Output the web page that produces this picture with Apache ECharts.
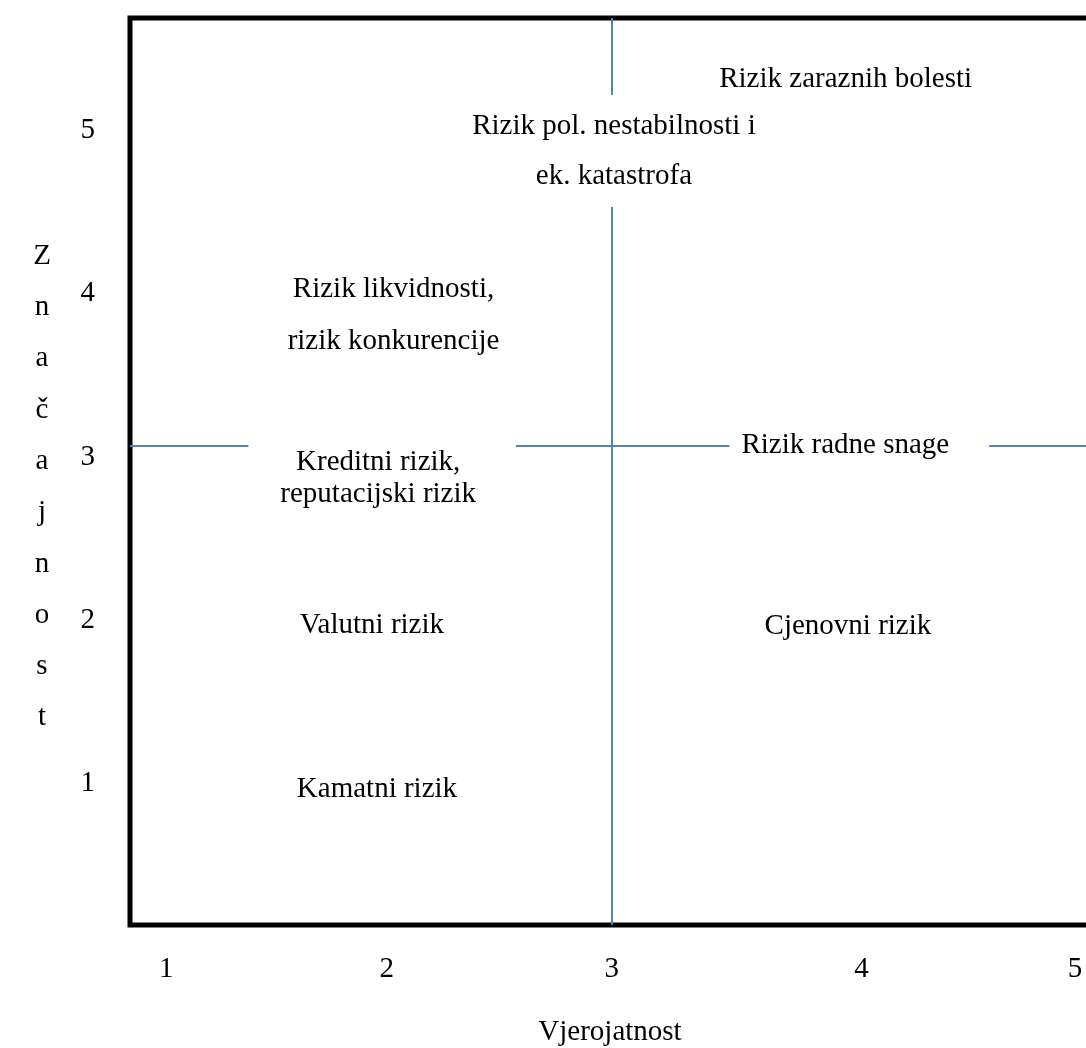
<!DOCTYPE html>
<html>
<head>
	<meta charset="utf-8">
	<title>matrica rizika</title>
	<script src="https://cdn.jsdelivr.net/npm/echarts@6/dist/echarts.min.js"></script>
	<style>
		html, body { margin: 0; padding: 0; background: #fff; }
		#DIV1 { width: 1086px; height: 1048px; }
	</style>
</head>
<body>
	<div id="DIV1"></div>
	<script type="text/javascript">
		// tick labels and where they sit on the axes
		const xTickLabels = ["1", "2", "3", "4", "5"];
		const xTickPos = [1.04, 2.01, 3.0, 4.10, 5.04];
		const yTickLabels = ["1", "2", "3", "4", "5"];
		const yTickPos = [1, 2, 3, 4, 5];

		// risks placed in the matrix (vjerojatnost, značajnost)
		const risks = [
			"Rizik zaraznih bolesti",
			"Rizik pol. nestabilnosti i\nek. katastrofa",
			"Rizik likvidnosti,\nrizik konkurencije",
			"Kreditni rizik,\nreputacijski rizik",
			"Rizik radne snage",
			"Valutni rizik",
			"Cjenovni rizik",
			"Kamatni rizik"
		];
		const riskX = [4.03, 3.01, 2.04, 1.99, 4.09, 1.945, 4.04, 1.967];
		const riskY = [5.282, 4.845, 3.834, 2.84, 3.04, 1.938, 1.933, 0.934];

		// quadrant dividers
		const splitX = 3;
		const splitY = 3.04;

		const FONT = "'Liberation Serif', 'DejaVu Serif', serif";

		const chart = echarts.init(document.getElementById("DIV1"));

		// label box looks (white boxes hide the divider lines behind text)
		const boxStyle = {
			1: { lineHeight: 50, padding: [12, 10, 0, 10], backgroundColor: "#fff" },
			2: { lineHeight: 52 },
			3: { lineHeight: 32, padding: [8, 40, 4, 32], backgroundColor: "#fff" },
			4: { padding: [11, 40, 5, 12], backgroundColor: "#fff" }
		};

		const pickLabel = function(list, pos, value){
			let best = 0;
			for (let i = 1; i < pos.length; i++){
				if (Math.abs(pos[i] - value) < Math.abs(pos[best] - value)) best = i;
			}
			return list[best];
		};

		const textData = risks.map(function(name, i){
			const item = { name: name, value: [riskX[i], riskY[i]] };
			if (boxStyle[i]) item.label = boxStyle[i];
			return item;
		});

		const option = {
			animation: false,
			backgroundColor: "#fff",
			grid: {
				left: 130, top: 18, width: 986, height: 907,
				outerBoundsMode: "none", containLabel: false,
				show: true, borderColor: "#000", borderWidth: 5, backgroundColor: "transparent"
			},
			xAxis: {
				type: "value", min: 0.88, max: 5.22,
				axisLine: { show: false }, axisTick: { show: false }, splitLine: { show: false },
				axisLabel: {
					customValues: xTickPos, margin: 30,
					fontFamily: FONT, fontSize: 29, color: "#000",
					formatter: function(v){ return pickLabel(xTickLabels, xTickPos, v); }
				}
			},
			yAxis: {
				type: "value", min: 0.1, max: 5.66,
				axisLine: { show: false }, axisTick: { show: false }, splitLine: { show: false },
				axisLabel: {
					customValues: yTickPos, margin: 35,
					fontFamily: FONT, fontSize: 29, color: "#000",
					formatter: function(v){ return "{t|" + pickLabel(yTickLabels, yTickPos, v) + "}"; },
					rich: {
						t: { fontFamily: FONT, fontSize: 29, color: "#000", padding: [10, 0, 0, 0] }
					}
				}
			},
			graphic: [
				{
					type: "text", x: 42, y: 487, z: 20,
					style: {
						text: "Značajnost".split("").join("\n"),
						font: "29px " + FONT, fill: "#000",
						lineHeight: 51.3, align: "center", verticalAlign: "middle"
					}
				},
				{
					type: "text", x: 610, y: 1032, z: 20,
					style: {
						text: "Vjerojatnost", font: "29px " + FONT, fill: "#000",
						align: "center", verticalAlign: "middle"
					}
				}
			],
			series: [
				{
					type: "scatter", z: 1, data: [], silent: true,
					markLine: {
						silent: true, symbol: "none", z: 1, animation: false,
						label: { show: false },
						lineStyle: { color: "#4f81bd", width: 2, type: "solid", opacity: 1 },
						data: [{ xAxis: splitX }, { yAxis: splitY }]
					}
				},
				{
					type: "scatter", z: 10, symbolSize: 0, silent: true,
					itemStyle: { opacity: 1 },
					data: textData,
					label: {
						show: true, position: "inside",
						formatter: "{b}",
						fontFamily: FONT, fontSize: 29, color: "#000"
					}
				}
			]
		};
		chart.setOption(option);
	</script>
</body>
</html>
